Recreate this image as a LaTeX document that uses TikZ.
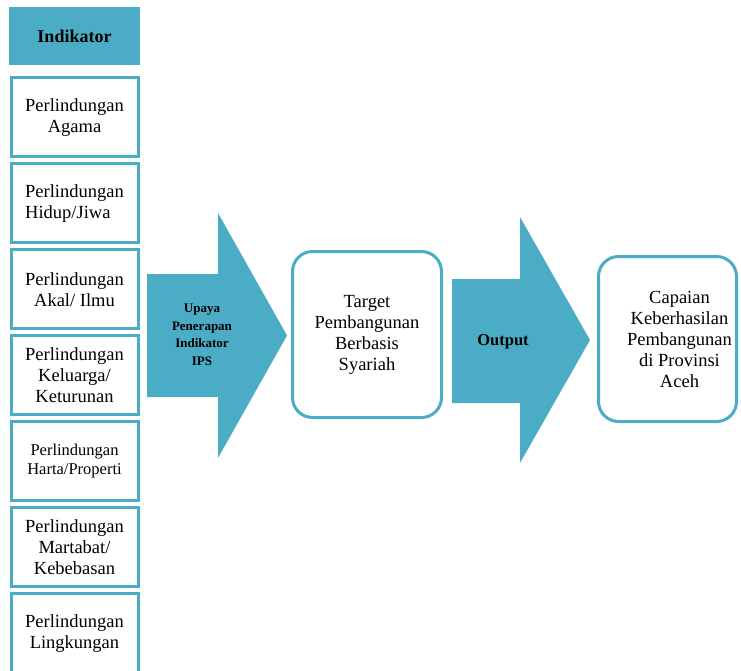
\documentclass[tikz,border=0pt]{standalone}
\usepackage{fontspec}
\setmainfont{Liberation Serif}
\usetikzlibrary{positioning}
\definecolor{ipsblue}{RGB}{75,172,198}

\begin{document}
\begin{tikzpicture}[x=1pt,y=-1pt,
    indbox/.style={draw=ipsblue,line width=3pt,minimum width=127pt,minimum height=79pt,align=center,font=\fontsize{18.5}{21}\selectfont},
    roundbox/.style={draw=ipsblue,line width=3pt,rounded corners=20pt,align=center,font=\fontsize{18.5}{21}\selectfont},
    arrowtext/.style={font=\bfseries\fontsize{13}{17.5}\selectfont,align=center}]
  \clip (0,0) rectangle (741,670);
  \fill[white] (0,0) rectangle (741,670);
  % kolom indikator
  \node[fill=ipsblue,minimum width=131pt,minimum height=58pt,font=\bfseries\fontsize{18}{21}\selectfont] (indikator) at (74.5,36) {Indikator};
  \node[indbox,below=11pt of indikator] (agama) {Perlindungan\\Agama};
  \node[indbox,below=4pt of agama,align=left] (jiwa) {Perlindungan\\Hidup/Jiwa};
  \node[indbox,below=4pt of jiwa] (akal) {Perlindungan\\Akal/ Ilmu};
  \node[indbox,below=4pt of akal] (keturunan) {Perlindungan\\Keluarga/\\Keturunan};
  \node[indbox,below=4pt of keturunan,font=\fontsize{16.5}{19}\selectfont] (harta) {Perlindungan\\Harta/Properti};
  \node[indbox,below=4pt of harta] (martabat) {Perlindungan\\Martabat/\\Kebebasan};
  \node[indbox,below=4pt of martabat] (lingkungan) {Perlindungan\\Lingkungan};
  % panah
  \fill[ipsblue] (147,274) -- (218,274) -- (218,213) -- (287,335.5) -- (218,458) -- (218,397) -- (147,397) -- cycle;
  \node[arrowtext] (upaya) at (202,335) {Upaya\\Penerapan\\Indikator\\IPS};
  \node[roundbox,minimum width=149pt,minimum height=166pt] (target) at (367,334.5) {Target\\Pembangunan\\Berbasis\\Syariah};
  \fill[ipsblue] (452,279) -- (520,279) -- (520,217) -- (590,340) -- (520,463) -- (520,403) -- (452,403) -- cycle;
  \node[arrowtext,font=\bfseries\fontsize{16.5}{20}\selectfont] (output) at (503,342) {Output};
  \node[roundbox,minimum width=138pt,minimum height=165pt] (capaian) at (667.5,339) {};
  \node[align=center,font=\fontsize{18.5}{21}\selectfont] (capaiantext) at ([xshift=12pt]capaian.center) {Capaian\\Keberhasilan\\Pembangunan\\di Provinsi\\Aceh};
\end{tikzpicture}
\end{document}
